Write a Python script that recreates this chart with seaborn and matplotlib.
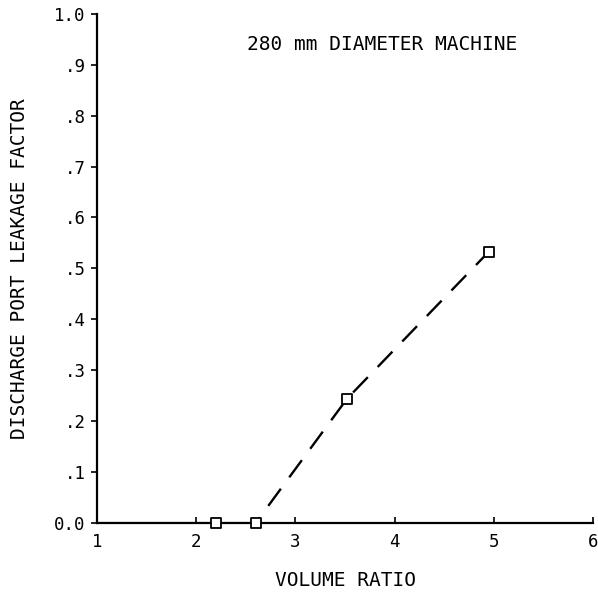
import pandas as pd
from matplotlib import pyplot as plt
import seaborn as sns

# measured points
volume_ratio = [2.2, 2.6, 3.52, 4.95]
leakage_factor = [0.0, 0.0, 0.244, 0.533]

# faired curve: solid along zero, dashed through the rising points
curve_x = [1.0, 2.6]
curve_y = [0.0, 0.0]
dash_x = [2.6, 3.52, 4.95]
dash_y = [0.0, 0.244, 0.533]

x_ticks = [1, 2, 3, 4, 5, 6]
y_ticks = [0.0, 0.1, 0.2, 0.3, 0.4, 0.5, 0.6, 0.7, 0.8, 0.9, 1.0]
y_tick_labels = ["0.0", ".1", ".2", ".3", ".4", ".5", ".6", ".7", ".8", ".9", "1.0"]

sns.set_style("ticks")
plt.rcParams["font.family"] = ["DejaVu Sans Mono"]
plt.rcParams["text.color"] = "black"
plt.rcParams["axes.labelcolor"] = "black"
plt.rcParams["xtick.color"] = "black"
plt.rcParams["ytick.color"] = "black"

df_pts = pd.DataFrame({"x": volume_ratio, "y": leakage_factor})
df_solid = pd.DataFrame({"x": curve_x, "y": curve_y})
df_dash = pd.DataFrame({"x": dash_x, "y": dash_y})

fig = plt.figure(figsize=(5.98, 5.97), dpi=100)
ax = fig.add_axes([0.162, 0.124, 0.83, 0.853])

sns.lineplot(data=df_solid, x="x", y="y", ax=ax, color="black", linewidth=1.5,
             sort=False)
sns.lineplot(data=df_dash, x="x", y="y", ax=ax, color="black", linewidth=1.7,
             sort=False, linestyle=(6, (9, 6)))
sns.scatterplot(data=df_pts, x="x", y="y", ax=ax, marker="s", s=60,
                facecolor="white", edgecolor="black", linewidth=1.3, zorder=5,
                clip_on=False)

ax.set_xlim(1, 6)
ax.set_ylim(0, 1)
ax.set_xticks(x_ticks)
ax.set_yticks(y_ticks)
ax.set_yticklabels(y_tick_labels)
sns.despine(ax=ax)
for sp in ["left", "bottom"]:
    ax.spines[sp].set_linewidth(1.6)
    ax.spines[sp].set_color("black")
ax.tick_params(axis="y", direction="out", length=4, width=1.2, labelsize=12.5, pad=4)
ax.tick_params(axis="x", direction="in", length=4, width=1.2, labelsize=12.5, pad=7)

ax.set_xlabel("VOLUME RATIO", fontsize=14)
ax.set_ylabel("DISCHARGE PORT LEAKAGE FACTOR", fontsize=14)
ax.xaxis.set_label_coords(0.5, -0.094)
ax.yaxis.set_label_coords(-0.136, 0.5)
ax.text(0.575, 0.939, "280 mm DIAMETER MACHINE", transform=ax.transAxes,
        ha="center", va="center", fontsize=14)

fig.savefig("out.png", dpi=100)
